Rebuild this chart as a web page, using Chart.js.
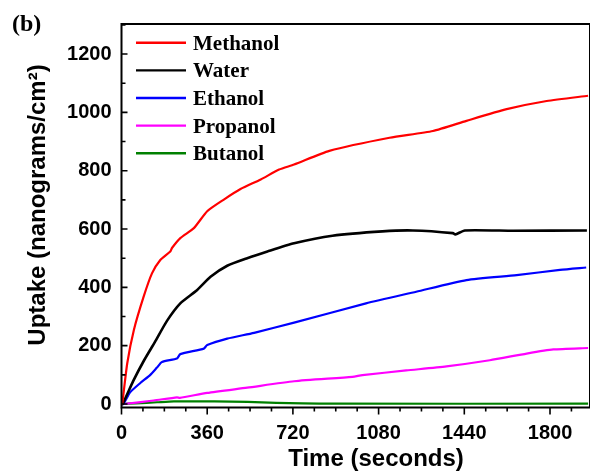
<!DOCTYPE html>
<html>
<head>
<meta charset="utf-8">
<script src="https://cdn.jsdelivr.net/npm/chart.js@4/dist/chart.umd.min.js"></script>
<style>
    html, body { margin: 0; padding: 0; background: #fff; overflow: hidden; }
    #wrap { width: 590px; height: 473px; position: relative; }
</style>
</head>
<body>
<div id="wrap"><canvas id="uptakeChart"></canvas></div>
<script>
// values (time in seconds, uptake in ng/cm2)
const methanolTime = [0, 3, 24, 52, 93, 128, 163, 205, 212, 247, 304, 360, 430, 500, 585, 662, 725, 873, 1126, 1308, 1449, 1618, 1786, 1960];
const methanolUptake = [0, 0, 139, 254, 368, 448, 494, 523, 535, 569, 603, 661, 701, 737, 770, 804, 821, 868, 913, 936, 971, 1011, 1039, 1057];

const waterTime = [0, 5, 50, 95, 140, 191, 247, 318, 374, 444, 528, 613, 725, 886, 1096, 1224, 1392, 1402, 1442, 1645, 1955];
const waterUptake = [0, 0, 80, 150, 212, 285, 345, 391, 436, 474, 500, 523, 551, 577, 592, 595, 586, 581, 595, 594, 595];

const ethanolTime = [0, 8, 36, 79, 121, 149, 170, 233, 247, 346, 360, 444, 557, 725, 1027, 1238, 1449, 1660, 1842, 1952];
const ethanolUptake = [0, 0, 40, 72, 100, 125, 144, 156, 171, 190, 202, 224, 244, 279, 345, 385, 425, 442, 460, 468];

const propanolTime = [0, 8, 135, 233, 245, 360, 528, 725, 970, 1012, 1196, 1365, 1547, 1702, 1814, 1960];
const propanolUptake = [0, 0, 12, 23, 21, 38, 56, 78, 93, 99, 115, 129, 150, 173, 187, 192];

const butanolTime = [0, 60, 150, 220, 390, 530, 650, 760, 900, 1960];
const butanolUptake = [0, 2, 6, 9, 9, 7, 4, 2, 1, 1];

const seriesNames = ['Methanol', 'Water', 'Ethanol', 'Propanol', 'Butanol'];
const seriesColors = ['#ff0000', '#000000', '#0000ff', '#ff00ff', '#008000'];

const xTickLabels = [0, 360, 720, 1080, 1440, 1800];
const yTickLabels = [0, 200, 400, 600, 800, 1000, 1200];

function toPoints(times, values) {
    return times.map((t, i) => ({ x: t, y: values[i] }));
}

const allSeries = [
    toPoints(methanolTime, methanolUptake),
    toPoints(waterTime, waterUptake),
    toPoints(ethanolTime, ethanolUptake),
    toPoints(propanolTime, propanolUptake),
    toPoints(butanolTime, butanolUptake)
];

// frame, tick marks, legend and axis titles
const figureDecor = {
    id: 'figureDecor',
    afterDatasetsDraw(chart) {
        const ctx = chart.ctx;
        const area = chart.chartArea;
        const xs = chart.scales.x;
        const ys = chart.scales.y;

        ctx.save();
        ctx.strokeStyle = '#000';
        ctx.lineWidth = 2;
        ctx.strokeRect(area.left, area.top, area.right - area.left, area.bottom - area.top);

        ctx.lineWidth = 1.6;
        ctx.beginPath();
        xs.ticks.forEach(t => {
            const px = xs.getPixelForValue(t.value);
            const len = xTickLabels.includes(t.value) ? 7 : 4;
            ctx.moveTo(px, area.bottom);
            ctx.lineTo(px, area.bottom + len);
        });
        ys.ticks.forEach(t => {
            const py = ys.getPixelForValue(t.value);
            const len = yTickLabels.includes(t.value) ? 6 : 4;
            ctx.moveTo(area.left, py);
            ctx.lineTo(area.left + len, py);
        });
        ctx.stroke();

        // legend
        chart.data.datasets.forEach((ds, i) => {
            const y = 42.7 + i * 27.65;
            ctx.strokeStyle = ds.borderColor;
            ctx.lineWidth = 2.4;
            ctx.beginPath();
            ctx.moveTo(136, y);
            ctx.lineTo(186, y);
            ctx.stroke();
            ctx.fillStyle = '#000';
            ctx.font = 'bold 21px "Liberation Serif"';
            ctx.textAlign = 'left';
            ctx.textBaseline = 'alphabetic';
            ctx.fillText(ds.label, 193, y + 7);
        });

        ctx.fillStyle = '#000';
        ctx.font = 'bold 24px "Liberation Serif"';
        ctx.textAlign = 'left';
        ctx.fillText('(b)', 12, 31);

        ctx.font = 'bold 24px "Liberation Sans"';
        ctx.textAlign = 'center';
        ctx.fillText('Time (seconds)', 376, 466);

        ctx.translate(45, 205);
        ctx.rotate(-Math.PI / 2);
        ctx.fillText('Uptake (nanograms/cm²)', 0, 0);
        ctx.restore();
    }
};

const tickFont = { family: 'Liberation Sans', size: 20, weight: 'bold' };

new Chart(document.getElementById('uptakeChart'), {
    type: 'line',
    data: {
        datasets: allSeries.map((pts, i) => ({
            label: seriesNames[i],
            data: pts,
            borderColor: seriesColors[i],
            backgroundColor: seriesColors[i],
            borderWidth: i === 1 ? 2.6 : 2.2,
            pointRadius: 0,
            tension: 0.2,
            fill: false
        }))
    },
    options: {
        responsive: true,
        maintainAspectRatio: false,
        animation: false,
        layout: { padding: { top: 24, right: 0, left: 0, bottom: 0 } },
        plugins: {
            legend: { display: false },
            tooltip: { enabled: false }
        },
        scales: {
            x: {
                type: 'linear',
                min: 0,
                max: 1968,
                grid: { display: false, drawTicks: false },
                border: { display: false },
                afterFit: s => { s.height = 65.5; },
                ticks: {
                    stepSize: 90,
                    includeBounds: false,
                    autoSkip: false,
                    maxRotation: 0,
                    padding: 14,
                    color: '#000',
                    font: tickFont,
                    callback: v => xTickLabels.includes(v) ? String(v) : ''
                }
            },
            y: {
                min: -12,
                max: 1303,
                grid: { display: false, drawTicks: false },
                border: { display: false },
                afterFit: s => { s.width = 121.5; },
                ticks: {
                    stepSize: 100,
                    includeBounds: false,
                    autoSkip: false,
                    padding: 10,
                    color: '#000',
                    font: tickFont,
                    callback: v => yTickLabels.includes(v) ? String(v) : ''
                }
            }
        }
    },
    plugins: [figureDecor]
});
</script>
</body>
</html>
